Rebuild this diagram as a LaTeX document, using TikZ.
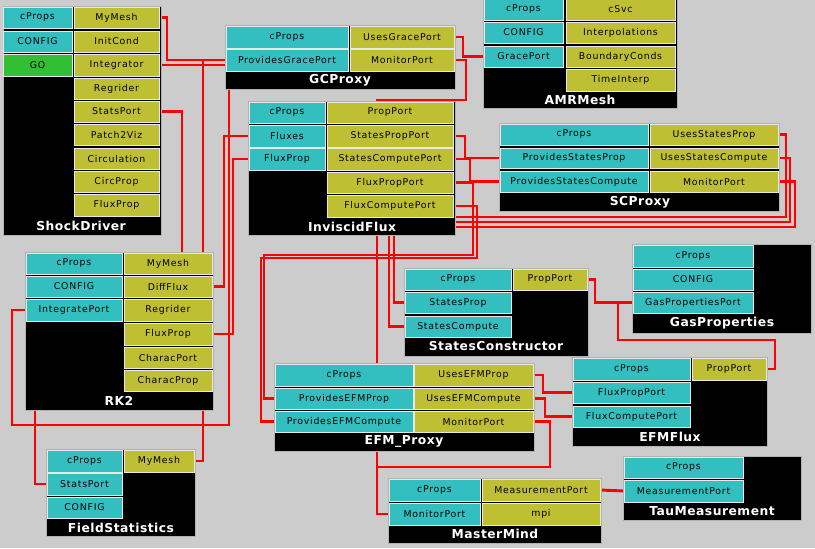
\documentclass[tikz,border=0pt]{standalone}
\usepackage{fontspec}
\setmainfont{DejaVu Sans}
\newfontfamily\portfont[LetterSpace=8]{DejaVu Sans}
\newfontfamily\titlefont[LetterSpace=4]{DejaVu Sans}

\definecolor{bggray}{RGB}{204,204,204}
\definecolor{portcyan}{RGB}{51,191,191}
\definecolor{portyellow}{RGB}{191,191,51}
\definecolor{portgreen}{RGB}{51,191,51}
\definecolor{wirered}{RGB}{255,0,0}
\definecolor{bevel}{RGB}{232,232,232}

\pgfdeclarelayer{bg}
\pgfdeclarelayer{wires}
\pgfsetlayers{bg,wires,main}

\tikzset{
  port/.style={draw=bevel, line width=0.7pt, inner sep=0pt, outer sep=0pt,
    font=\portfont\fontsize{8}{9}\selectfont},
  uses/.style={port, fill=portyellow},
  provides/.style={port, fill=portcyan},
  gobox/.style={port, fill=portgreen},
  panel/.style={fill=black, draw=gray!60, line width=0.5pt},
  comptitle/.style={text=white, inner sep=0pt,
    font=\titlefont\bfseries\fontsize{10.5}{12}\selectfont},
  wire/.style={draw=wirered, line width=2.5pt}
}

% port box from its corners: style, name, x1, y1, x2, y2, label
\newcommand{\port}[7]{\node[#1, minimum width={(#5-#3)*0.03cm},
  minimum height={(#6-#4)*0.03cm}] (#2) at ({(#3+#5)/2},{(#4+#6)/2}) {#7};}

\begin{document}
\begin{tikzpicture}[x=0.03cm, y=-0.03cm]
  \useasboundingbox (0,0) rectangle (815,548);
  \begin{pgfonlayer}{bg}
    \fill[bggray] (0,0) rectangle (815,548);
  \end{pgfonlayer}

  % ShockDriver
  \draw[panel] (3,6) rectangle (161,235);
  \port{provides}{sdcProps}{3}{7}{72}{28}{cProps}
  \port{uses}{sdMyMesh}{74}{7}{159}{28}{MyMesh}
  \port{provides}{sdCONFIG}{3}{31}{72}{52}{CONFIG}
  \port{uses}{sdInitCond}{74}{31}{159}{52}{InitCond}
  \port{gobox}{sdGO}{3}{54}{72}{76}{GO}
  \port{uses}{sdIntegrator}{74}{54}{159}{76}{Integrator}
  \port{uses}{sdRegrider}{74}{78}{159}{99}{Regrider}
  \port{uses}{sdStatsPort}{74}{101}{159}{122}{StatsPort}
  \port{uses}{sdPatch}{74}{124}{159}{145}{Patch2Viz}
  \port{uses}{sdCirculation}{74}{148}{159}{169}{Circulation}
  \port{uses}{sdCircProp}{74}{171}{159}{192}{CircProp}
  \port{uses}{sdFluxProp}{74}{194}{159}{216}{FluxProp}
  \node[comptitle] (sdTitle) at (81,225.5) {ShockDriver};

  % GCProxy
  \draw[panel] (225,25) rectangle (455,89);
  \port{provides}{gccProps}{226}{26}{348}{48}{cProps}
  \port{uses}{gcUsesGrace}{350}{26}{454}{48}{UsesGracePort}
  \port{provides}{gcProvGrace}{226}{49}{348}{71}{ProvidesGracePort}
  \port{uses}{gcMonitor}{350}{49}{454}{71}{MonitorPort}
  \node[comptitle] (gcTitle) at (340,80.5) {GCProxy};

  % InviscidFlux
  \draw[panel] (248,101) rectangle (455,235);
  \port{provides}{ifcProps}{249}{102}{325}{123}{cProps}
  \port{uses}{ifPropPort}{327}{102}{453}{123}{PropPort}
  \port{provides}{ifFluxes}{249}{125}{325}{147}{Fluxes}
  \port{uses}{ifStatesProp}{327}{125}{453}{147}{StatesPropPort}
  \port{provides}{ifFluxProp}{249}{148}{325}{170}{FluxProp}
  \port{uses}{ifStatesCompute}{327}{148}{453}{170}{StatesComputePort}
  \port{uses}{ifFluxPropPort}{327}{172}{453}{193}{FluxPropPort}
  \port{uses}{ifFluxCompute}{327}{195}{453}{217}{FluxComputePort}
  \node[comptitle] (ifTitle) at (352,226.5) {InviscidFlux};

  % AMRMesh
  \draw[panel] (483,-3) rectangle (677,108);
  \port{provides}{amrcProps}{484}{-2}{563}{20}{cProps}
  \port{uses}{amrcSvc}{566}{-2}{675}{20}{cSvc}
  \port{provides}{amrCONFIG}{484}{22}{563}{43}{CONFIG}
  \port{uses}{amrInterp}{566}{22}{675}{43}{Interpolations}
  \port{provides}{amrGrace}{484}{46}{563}{67}{GracePort}
  \port{uses}{amrBoundary}{566}{46}{675}{67}{BoundaryConds}
  \port{uses}{amrTime}{566}{69}{675}{91}{TimeInterp}
  \node[comptitle] (amrTitle) at (580,100) {AMRMesh};

  % SCProxy
  \draw[panel] (499,123) rectangle (779,211);
  \port{provides}{scpcProps}{500}{124}{648}{145}{cProps}
  \port{uses}{scpUsesStatesProp}{650}{124}{778}{145}{UsesStatesProp}
  \port{provides}{scpProvStatesProp}{500}{148}{648}{168}{ProvidesStatesProp}
  \port{uses}{scpUsesStatesCompute}{650}{148}{778}{168}{UsesStatesCompute}
  \port{provides}{scpProvStatesCompute}{500}{171}{648}{192}{ProvidesStatesCompute}
  \port{uses}{scpMonitor}{650}{171}{778}{192}{MonitorPort}
  \node[comptitle] (scpTitle) at (640,202) {SCProxy};

  % RK2
  \draw[panel] (25,252) rectangle (213,410);
  \port{provides}{rkcProps}{26}{253}{122}{274}{cProps}
  \port{uses}{rkMyMesh}{124}{253}{212}{274}{MyMesh}
  \port{provides}{rkCONFIG}{26}{276}{122}{297}{CONFIG}
  \port{uses}{rkDiffFlux}{124}{276}{212}{297}{DiffFlux}
  \port{provides}{rkIntegrate}{26}{299}{122}{321}{IntegratePort}
  \port{uses}{rkRegrider}{124}{299}{212}{321}{Regrider}
  \port{uses}{rkFluxProp}{124}{323}{212}{345}{FluxProp}
  \port{uses}{rkCharacPort}{124}{347}{212}{368}{CharacPort}
  \port{uses}{rkCharacProp}{124}{370}{212}{391}{CharacProp}
  \node[comptitle] (rkTitle) at (119,401) {RK2};

  % FieldStatistics
  \draw[panel] (46,449) rectangle (195,536);
  \port{provides}{fscProps}{47}{450}{122}{472}{cProps}
  \port{uses}{fsMyMesh}{124}{450}{194}{472}{MyMesh}
  \port{provides}{fsStatsPort}{47}{473}{122}{495}{StatsPort}
  \port{provides}{fsCONFIG}{47}{497}{122}{518}{CONFIG}
  \node[comptitle] (fsTitle) at (121,527.5) {FieldStatistics};

  % StatesConstructor
  \draw[panel] (404,268) rectangle (588,356);
  \port{provides}{stccProps}{405}{269}{511}{290}{cProps}
  \port{uses}{stcPropPort}{513}{269}{587}{290}{PropPort}
  \port{provides}{stcStatesProp}{405}{292}{511}{313}{StatesProp}
  \port{provides}{stcStatesCompute}{405}{316}{511}{337}{StatesCompute}
  \node[comptitle] (stcTitle) at (496,346.5) {StatesConstructor};

  % EFM_Proxy
  \draw[panel] (274,363) rectangle (534,451);
  \port{provides}{efpcProps}{275}{364}{413}{386}{cProps}
  \port{uses}{efpUsesProp}{414}{364}{533}{386}{UsesEFMProp}
  \port{provides}{efpProvProp}{275}{388}{413}{409}{ProvidesEFMProp}
  \port{uses}{efpUsesCompute}{414}{388}{533}{409}{UsesEFMCompute}
  \port{provides}{efpProvCompute}{275}{411}{413}{432}{ProvidesEFMCompute}
  \port{uses}{efpMonitor}{414}{411}{533}{432}{MonitorPort}
  \node[comptitle] (efpTitle) at (404,441.5) {EFM\_Proxy};

  % MasterMind
  \draw[panel] (388,478) rectangle (601,543);
  \port{provides}{mmcProps}{389}{479}{480}{501}{cProps}
  \port{uses}{mmMeasure}{482}{479}{600}{501}{MeasurementPort}
  \port{provides}{mmMonitor}{389}{503}{480}{525}{MonitorPort}
  \port{uses}{mmMpi}{482}{503}{600}{525}{mpi}
  \node[comptitle] (mmTitle) at (495,534) {MasterMind};

  % GasProperties
  \draw[panel] (632,244) rectangle (811,333);
  \port{provides}{gascProps}{633}{245}{753}{267}{cProps}
  \port{provides}{gasCONFIG}{633}{269}{753}{290}{CONFIG}
  \port{provides}{gasPort}{633}{292}{753}{313}{GasPropertiesPort}
  \node[comptitle] (gasTitle) at (722,323) {GasProperties};

  % EFMFlux
  \draw[panel] (572,357) rectangle (767,446);
  \port{provides}{effcProps}{573}{358}{690}{380}{cProps}
  \port{uses}{effPropPort}{692}{358}{766}{380}{PropPort}
  \port{provides}{effFluxPropPort}{573}{382}{690}{403}{FluxPropPort}
  \port{provides}{effFluxCompute}{573}{406}{690}{427}{FluxComputePort}
  \node[comptitle] (effTitle) at (670,436.5) {EFMFlux};

  % TauMeasurement
  \draw[panel] (623,456) rectangle (801,520);
  \port{provides}{taucProps}{624}{457}{743}{478}{cProps}
  \port{provides}{tauMeasure}{624}{480}{743}{502}{MeasurementPort}
  \node[comptitle] (tauTitle) at (712,511) {TauMeasurement};

  % connections, under the components
  \begin{pgfonlayer}{wires}
    \draw[wire] (sdMyMesh.east) -- ++(8,0) |- (gcProvGrace.west);
    \draw[wire] (fsMyMesh.east) -- ++(9,0) |- (gcProvGrace.west);
    \draw[wire] (sdIntegrator.east) -| (229,425) -- (12,425) |- (rkIntegrate.west);
    \draw[wire] (sdStatsPort.east) -| (182,400) -- (35,400) |- (fsStatsPort.west);
    \draw[wire] (rkDiffFlux.east) -- ++(12,0) |- (ifFluxes.west);
    \draw[wire] (rkFluxProp.east) -- ++(21,0) |- (ifFluxProp.west);
    \draw[wire] (gcUsesGrace.east) -- ++(9,0) |- (amrGrace.west);
    \draw[wire] (gcMonitor.east) -| (466,100) -| (377,514) -- (mmMonitor.west);
    \draw[wire] (ifStatesProp.east) -- ++(12,0) |- (scpProvStatesProp.west);
    \draw[wire] (ifStatesCompute.east) -- ++(17,0) |- (scpProvStatesCompute.west);
    \draw[wire] (ifFluxPropPort.east) -| (473,255) -- (264,255) |- (efpProvProp.west);
    \draw[wire] (ifFluxCompute.east) -| (477,258) -- (261,258) |- (efpProvCompute.west);
    \draw[wire] (scpUsesStatesProp.east) -| (786,217) -- (394,217) |- (stcStatesProp.west);
    \draw[wire] (scpUsesStatesCompute.east) -| (790,222) -- (389,222) |- (stcStatesCompute.west);
    \draw[wire] (scpMonitor.east) -| (795,227) -- (377,227) |- (mmMonitor.west);
    \draw[wire] (efpUsesProp.east) -- ++(10,0) |- (effFluxPropPort.west);
    \draw[wire] (efpUsesCompute.east) -- ++(12,0) |- (effFluxCompute.west);
    \draw[wire] (efpMonitor.east) -| (550,467) -- (377,467) |- (mmMonitor.west);
    \draw[wire] (stcPropPort.east) -- ++(8,0) |- (gasPort.west);
    \draw[wire] (effPropPort.east) -| (775,340) -- (618,340) |- (gasPort.west);
    \draw[wire] (mmMeasure.east) -- (tauMeasure.west);
  \end{pgfonlayer}
\end{tikzpicture}
\end{document}
